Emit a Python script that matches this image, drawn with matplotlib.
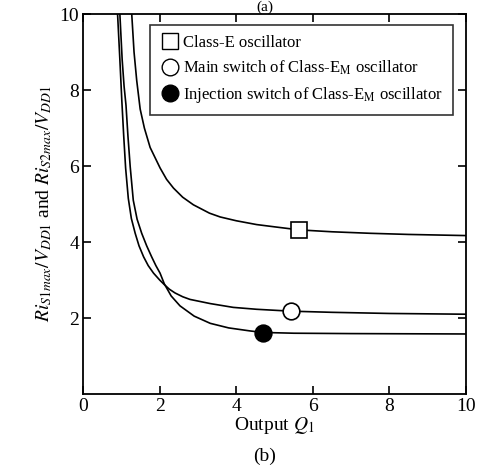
import matplotlib
matplotlib.use('Agg')
import matplotlib.pyplot as plt
from matplotlib.lines import Line2D

plt.rcParams['font.family'] = ['Liberation Serif', 'DejaVu Serif']
plt.rcParams['mathtext.fontset'] = 'stix'

# values
q_classe = [1.27, 1.33, 1.40, 1.49, 1.60, 1.75, 2.01, 2.18, 2.36, 2.60, 2.88, 3.30,
            3.58, 4.00, 4.53, 5.00, 5.64, 6.50, 7.50, 8.50, 10.0]
y_classe = [10.0, 9.00, 8.25, 7.50, 7.00, 6.49, 5.95, 5.65, 5.42, 5.18, 4.98, 4.76,
            4.66, 4.56, 4.46, 4.40, 4.32, 4.27, 4.23, 4.20, 4.17]

q_main = [0.90, 0.96, 1.01, 1.06, 1.11, 1.18, 1.26, 1.36, 1.46, 1.58, 1.70, 1.84,
          2.00, 2.12, 2.25, 2.40, 2.60, 2.79, 3.32, 3.92, 4.53, 5.43, 6.50, 8.00, 10.0]
y_main = [10.0, 8.80, 7.74, 6.80, 5.95, 5.15, 4.62, 4.23, 3.90, 3.61, 3.38, 3.18,
          3.00, 2.88, 2.76, 2.66, 2.56, 2.49, 2.38, 2.28, 2.23, 2.18, 2.15, 2.12, 2.10]

q_inj = [0.96, 1.02, 1.07, 1.12, 1.17, 1.23, 1.31, 1.41, 1.53, 1.66, 1.79, 1.90,
         2.01, 2.12, 2.30, 2.53, 2.90, 3.32, 3.80, 4.36, 4.70, 5.50, 7.00, 10.0]
y_inj = [10.0, 8.80, 8.10, 7.60, 6.80, 5.98, 5.10, 4.60, 4.23, 3.90, 3.61, 3.38,
         3.18, 2.90, 2.58, 2.32, 2.05, 1.86, 1.74, 1.66, 1.62, 1.60, 1.59, 1.58]

# marker positions
mark_classe = (5.64, 4.32)
mark_main = (5.43, 2.18)
mark_inj = (4.70, 1.61)

fig = plt.figure(figsize=(4.86, 4.70), dpi=100)
ax = fig.add_axes([0.171, 0.1617, 0.788, 0.8083])

ax.plot(q_classe, y_classe, color='black', lw=1.2)
ax.plot(q_main, y_main, color='black', lw=1.2)
ax.plot(q_inj, y_inj, color='black', lw=1.2)

ax.plot(*mark_classe, marker='s', ms=12, mfc='white', mec='black', mew=1.2, zorder=5)
ax.plot(*mark_main, marker='o', ms=12, mfc='white', mec='black', mew=1.2, zorder=5)
ax.plot(*mark_inj, marker='o', ms=12, mfc='black', mec='black', mew=1.2, zorder=5)

ax.set_xlim(0, 10)
ax.set_ylim(0, 10)
ax.set_xticks([0, 2, 4, 6, 8, 10])
ax.set_yticks([2, 4, 6, 8, 10])
ax.tick_params(direction='in', top=True, right=True, length=6, width=1.2,
               labelsize=14, pad=3)
for s in ax.spines.values():
    s.set_linewidth(1.3)

ax.set_xlabel(r'Output $Q_1$', fontsize=14, labelpad=0)
ax.set_ylabel(r'$Ri_{S1max}/V_{DD1}$ and $Ri_{S2max}/V_{DD1}$', fontsize=14, labelpad=4)

handles = [
    Line2D([], [], ls='none', marker='s', ms=12, mfc='white', mec='black', mew=1.0),
    Line2D([], [], ls='none', marker='o', ms=12, mfc='white', mec='black', mew=1.0),
    Line2D([], [], ls='none', marker='o', ms=12, mfc='black', mec='black', mew=1.0),
]
labels = ['Class-E oscillator',
          r'Main switch of Class-E$_{\mathrm{M}}$ oscillator',
          r'Injection switch of Class-E$_{\mathrm{M}}$ oscillator']
leg = ax.legend(handles, labels, loc='upper right', fontsize=12, frameon=True,
                fancybox=False, edgecolor='black', handletextpad=0.2,
                borderaxespad=0, labelspacing=0.45, handlelength=1.2,
                borderpad=0.6, bbox_to_anchor=(0.966, 0.971))
leg.get_frame().set_linewidth(1.2)

fig.text(0.545, 0.03, '(b)', ha='center', va='center', fontsize=14)
fig.text(0.545, 0.999, '(a)', ha='center', va='top', fontsize=11)

fig.savefig('out.png', dpi=100)
